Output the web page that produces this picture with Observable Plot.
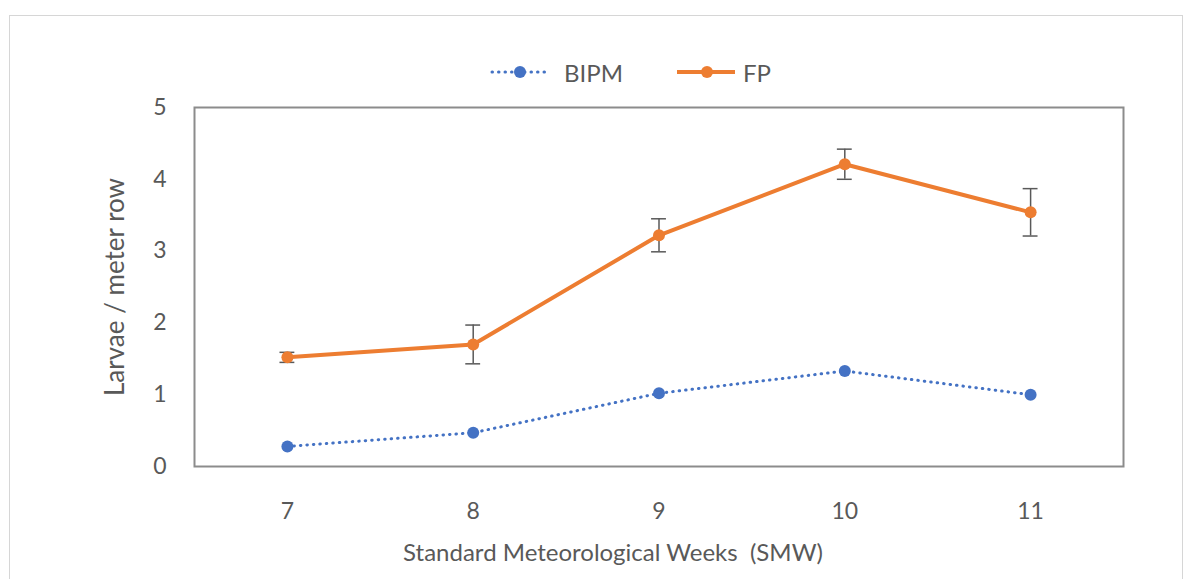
<!DOCTYPE html>
<html><head><meta charset="utf-8">
<script src="https://cdn.jsdelivr.net/npm/d3@7"></script>
<script src="https://cdn.jsdelivr.net/npm/@observablehq/plot@0.6"></script>
<style>
body{margin:0;background:#fff;font-family:Lato,"Open Sans",sans-serif;width:1186px;height:579px;overflow:hidden;position:relative;}
#outer{position:absolute;left:9px;top:15px;width:1174px;height:600px;border:1.5px solid #d6d6d6;box-sizing:border-box;}
#legend{position:absolute;top:57px;left:490px;height:30px;display:flex;align-items:center;font-size:24px;color:#595959;}
#legend .item{display:flex;align-items:center;}
#legend svg{display:block;}
#chart{position:absolute;left:0;top:90px;}
</style>
</head><body>
<div id="outer"></div>
<div id="legend"></div>
<div id="chart"></div>
<script>
const weeks = [7, 8, 9, 10, 11];
const seriesNames = ["BIPM", "FP"];
const bipm = [0.28, 0.47, 1.02, 1.33, 1.0];
const fp = [1.52, 1.70, 3.22, 4.21, 3.54];
const fpErr = [0.07, 0.27, 0.23, 0.21, 0.33];
const yTicks = [0, 1, 2, 3, 4, 5];
const yLabel = "Larvae / meter row";
const xLabel = "Standard Meteorological Weeks  (SMW)";
const colors = {BIPM: "#4472C4", FP: "#ED7D31"};

const bipmData = weeks.map((w, i) => ({week: w, value: bipm[i]}));
const fpData = weeks.map((w, i) => ({week: w, value: fp[i], lo: fp[i] - fpErr[i], hi: fp[i] + fpErr[i]}));

// legend
const legend = document.getElementById("legend");
seriesNames.forEach((name, i) => {
  const item = document.createElement("div");
  item.className = "item";
  item.style.marginRight = i === 0 ? "52px" : "0";
  const dotted = name === "BIPM";
  item.innerHTML = `<svg width="62" height="20"><line x1="2" x2="${dotted ? 56 : 60}" y1="10" y2="10" stroke="${colors[name]}" stroke-width="${dotted ? 3 : 4}" ${dotted ? 'stroke-dasharray="0.5,6" stroke-linecap="round"' : ''}/><circle cx="${dotted ? 30 : 32}" cy="10" r="6" fill="${colors[name]}"/></svg><span style="margin-left:${dotted ? 12 : 6}px">${name}</span>`;
  legend.appendChild(item);
});

const chart = Plot.plot({
  width: 1186,
  height: 489,
  marginLeft: 194,
  marginRight: 63,
  marginTop: 17,
  marginBottom: 113,
  style: {fontFamily: "Lato, 'Open Sans', sans-serif", fontSize: "23px", color: "#595959", background: "transparent"},
  x: {domain: [6.5, 11.5], ticks: weeks, tickSize: 0, tickPadding: 36, tickFormat: d => String(d), label: null},
  y: {domain: [0, 5], ticks: yTicks, tickSize: 0, tickPadding: 28, tickFormat: d => String(d), label: null},
  marks: [
    Plot.frame({stroke: "#8c8c8c", strokeWidth: 2}),
    Plot.line(bipmData, {x: "week", y: "value", stroke: colors.BIPM, strokeWidth: 3, strokeDasharray: "0.5,6", strokeLinecap: "round"}),
    Plot.dot(bipmData, {x: "week", y: "value", r: 6, fill: colors.BIPM}),
    Plot.line(fpData, {x: "week", y: "value", stroke: colors.FP, strokeWidth: 4}),
    Plot.ruleX(fpData, {x: "week", y1: "lo", y2: "hi", stroke: "#595959", strokeWidth: 1.5}),
    Plot.ruleY(fpData, {y: "lo", x1: d => d.week - 0.04, x2: d => d.week + 0.04, stroke: "#595959", strokeWidth: 1.5}),
    Plot.ruleY(fpData, {y: "hi", x1: d => d.week - 0.04, x2: d => d.week + 0.04, stroke: "#595959", strokeWidth: 1.5}),
    Plot.dot(fpData, {x: "week", y: "value", r: 6, fill: colors.FP}),
    Plot.text([xLabel], {frameAnchor: "bottom", text: d => d, dy: 94, dx: -46, fontSize: 24, fill: "#595959"}),
    Plot.text([yLabel], {frameAnchor: "left", text: d => d, textAnchor: "middle", rotate: -90, dx: -79, fontSize: 26, fill: "#595959"})
  ]
});
document.getElementById("chart").appendChild(chart);
</script>
</body></html>
